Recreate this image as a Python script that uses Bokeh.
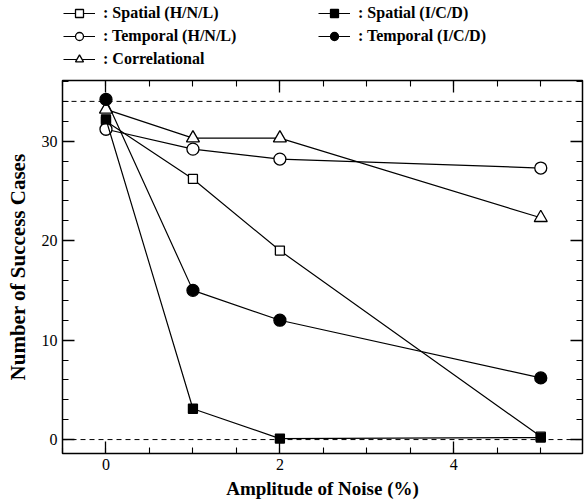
from bokeh.plotting import figure
from bokeh.layouts import column
from bokeh.models import (Span, Legend, LegendItem, LinearAxis, Range1d,
                          SingleIntervalTicker, CustomJSTickFormatter)
from bokeh.embed import file_html
from bokeh.resources import INLINE

# ---- data ----
noise = [0, 1, 2, 5]
spatial_hnl = [32.0, 26.2, 19.0, 0.3]
temporal_hnl = [31.2, 29.2, 28.2, 27.3]
correlational = [33.2, 30.3, 30.3, 22.3]
spatial_icd = [32.2, 3.1, 0.1, 0.2]
temporal_icd = [34.2, 15.0, 12.0, 6.2]
ref_levels = [0, 34]
labels = [": Spatial (H/N/L)", ": Temporal (H/N/L)", ": Correlational",
          ": Spatial (I/C/D)", ": Temporal (I/C/D)"]

SERIF = "Liberation Serif"
FH = 373
FW = 520
LH = 70

p = figure(frame_width=FW, frame_height=FH, output_backend="svg", toolbar_location=None,
           x_range=Range1d(-0.5, 5.48), y_range=Range1d(-1.4, 36.1),
           min_border_left=62, min_border_top=10, min_border_bottom=44, min_border_right=4,
           x_axis_location=None, y_axis_location=None)
p.xgrid.visible = False
p.ygrid.visible = False
p.outline_line_color = "black"
p.outline_line_width = 1.5
p.background_fill_color = "white"
p.border_fill_color = "white"

def style_axis(ax, show_labels, lstand=4, lsize="19px"):
    ax.axis_line_color = None
    ax.major_tick_in = 12
    ax.major_tick_out = 0
    ax.minor_tick_in = 6
    ax.minor_tick_out = 0
    ax.major_tick_line_color = "black"
    ax.minor_tick_line_color = "black"
    ax.major_tick_line_width = 1.3
    ax.minor_tick_line_width = 1.1
    if show_labels:
        ax.major_label_text_font = SERIF
        ax.major_label_text_font_size = "16px"
        ax.major_label_text_color = "black"
        ax.major_label_standoff = 5
        ax.axis_label_text_font = SERIF
        ax.axis_label_text_font_style = "bold"
        ax.axis_label_text_font_size = lsize
        ax.axis_label_text_color = "black"
        ax.axis_label_standoff = lstand
    else:
        ax.formatter = CustomJSTickFormatter(code="return ''")
        ax.major_label_standoff = 0

bx = LinearAxis(ticker=SingleIntervalTicker(interval=2, num_minor_ticks=4),
                axis_label="Amplitude of Noise (%)")
style_axis(bx, True, 5, "19px")
p.add_layout(bx, "below")
ly = LinearAxis(ticker=SingleIntervalTicker(interval=10, num_minor_ticks=5),
                axis_label="Number of Success Cases")
style_axis(ly, True, 9, "21px")
p.add_layout(ly, "left")
tx = LinearAxis(ticker=SingleIntervalTicker(interval=2, num_minor_ticks=4))
style_axis(tx, False)
p.add_layout(tx, "above")
ry = LinearAxis(ticker=SingleIntervalTicker(interval=10, num_minor_ticks=5))
style_axis(ry, False)
p.add_layout(ry, "right")

for lv in ref_levels:
    p.add_layout(Span(location=lv, dimension="width", line_color="black",
                      line_dash="5 4", line_width=1))

series = [
    (spatial_hnl, "square", "white", 9),
    (temporal_hnl, "circle", "white", 12),
    (correlational, "triangle", "white", 13),
    (spatial_icd, "square", "black", 9),
    (temporal_icd, "circle", "black", 12),
]
for vals, mk, fill, sz in series:
    p.line(noise, vals, line_color="black", line_width=1.2)
    p.scatter(noise, vals, marker=mk, size=sz, fill_color=fill,
              line_color="black", line_width=1.3)

# ---- legend figure (its ranges keep the data out of view; only the legend shows) ----
lf = figure(width=FW + 66, height=LH, output_backend="svg", toolbar_location=None,
            x_range=Range1d(100, 101), y_range=Range1d(100, 101),
            min_border=0, x_axis_location=None, y_axis_location=None)
lf.xgrid.visible = False
lf.ygrid.visible = False
lf.outline_line_color = None
items = []
for (vals, mk, fill, sz), lab in zip(series, labels):
    l = lf.line(noise, vals, line_color="black", line_width=1.2)
    s = lf.scatter(noise, vals, marker=mk, size=sz, fill_color=fill,
                   line_color="black", line_width=1.3)
    items.append(LegendItem(label=lab, renderers=[l, s]))

def make_legend(its, loc):
    lg = Legend(items=its, location=loc)
    lg.label_text_font = SERIF
    lg.label_text_font_style = "bold"
    lg.label_text_font_size = "16px"
    lg.label_text_color = "black"
    lg.glyph_width = 32
    lg.glyph_height = 20
    lg.label_height = 20
    lg.label_standoff = 8
    lg.spacing = 3
    lg.padding = 0
    lg.margin = 0
    lg.border_line_alpha = 0
    lg.background_fill_alpha = 0
    return lg

lf.add_layout(make_legend(items[:3], (1, LH - 3 - 66)), "center")
lf.add_layout(make_legend(items[3:], (256, LH - 3 - 43)), "center")

layout = column(lf, p, spacing=0)
open("out.html", "w").write(file_html(layout, INLINE))
